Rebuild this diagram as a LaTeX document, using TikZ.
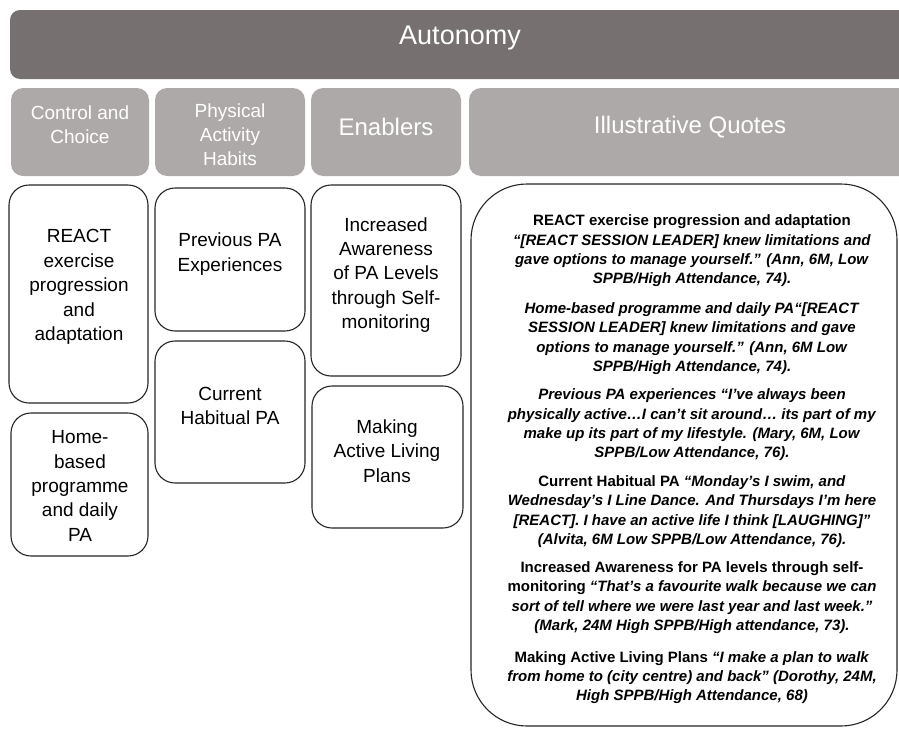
\documentclass[tikz,border=0pt]{standalone}
\usepackage{fontspec}
\setmainfont{Liberation Sans}
\usepackage{tikz}
\definecolor{autogray}{HTML}{767170}
\definecolor{headgray}{HTML}{ADA9A8}
\tikzset{
  autobar/.style={fill=autogray,rounded corners=10pt},
  headbox/.style={fill=headgray,rounded corners=12pt},
  itembox/.style={draw=black!85,line width=1.1pt,fill=white,rounded corners=20pt},
  quotebox/.style={draw=black!85,line width=1.1pt,fill=white,rounded corners=56pt},
  headtext/.style={text=white,align=center,inner sep=0pt},
  itemtext/.style={align=center,inner sep=0pt,font=\fontsize{19}{24.4}\selectfont},
  quotetext/.style={align=center,inner sep=0pt,font=\fontsize{15}{19.3}\selectfont\bfseries}
}

\begin{document}
\begin{tikzpicture}
    [line cap=round,line join=round,x=1pt,y=-1pt]
\useasboundingbox (0,0) rectangle (899,728);
%top bar
\fill[autobar] (10,10) rectangle (915,79);
\node[headtext,font=\fontsize{27}{32}\selectfont] (autonomy) at (460,38) {Autonomy};

%column heads
\fill[headbox] (11,88) rectangle (149,176);
\fill[headbox] (155,88) rectangle (305,176);
\fill[headbox] (311,88) rectangle (461,176);
\fill[headbox] (469,88) rectangle (915,176);
\node[headtext,font=\fontsize{19}{24}\selectfont] (control) at (80,125) {Control and\\Choice};
\node[headtext,font=\fontsize{19}{24}\selectfont] (habits) at (230,135) {Physical\\Activity\\Habits};
\node[headtext,font=\fontsize{24}{29}\selectfont] (enablers) at (386,127) {Enablers};
\node[headtext,font=\fontsize{24}{29}\selectfont] (quotes) at (690,127) {Illustrative Quotes};

%theme boxes
\draw[itembox] (9,185) rectangle (148,403);
\draw[itembox] (11,413) rectangle (148,556);
\draw[itembox] (155,188) rectangle (305,331);
\draw[itembox] (155,341) rectangle (305,483);
\draw[itembox] (311,185) rectangle (461,376);
\draw[itembox] (312,386) rectangle (463,528);
\node[itemtext] (react) at (79,287) {REACT\\exercise\\progression\\and\\adaptation};
\node[itemtext] (homebased) at (80,486) {Home-\\based\\programme\\and daily\\PA};
\node[itemtext] (previous) at (230,254) {Previous PA\\Experiences};
\node[itemtext] (current) at (230,406) {Current\\Habitual PA};
\node[itemtext] (awareness) at (386,275) {Increased\\Awareness\\of PA Levels\\through Self-\\monitoring};
\node[itemtext] (plans) at (387,451) {Making\\Active Living\\Plans};

%quotes
\draw[quotebox] (471,184) rectangle (897,726);
\node[quotetext] (q1) at (692,251) {REACT exercise progression and adaptation\\
  \textit{“[REACT SESSION LEADER] knew limitations and}\\
  \textit{gave options to manage yourself.” (Ann, 6M, Low}\\
  \textit{SPPB/High Attendance, 74).}};
\node[quotetext] (q2) at (692,338.5) {\textit{Home-based programme and daily PA“[REACT}\\
  \textit{SESSION LEADER] knew limitations and gave}\\
  \textit{options to manage yourself.” (Ann, 6M Low}\\
  \textit{SPPB/High Attendance, 74).}};
\node[quotetext] (q3) at (692,425) {\textit{Previous PA experiences “I’ve always been}\\
  \textit{physically active…I can’t sit around… its part of my}\\
  \textit{make up its part of my lifestyle. (Mary, 6M, Low}\\
  \textit{SPPB/Low Attendance, 76).}};
\node[quotetext] (q4) at (692,511.5) {Current Habitual PA \textit{“Monday’s I swim, and}\\
  \textit{Wednesday’s I Line Dance. And Thursdays I’m here}\\
  \textit{[REACT]. I have an active life I think [LAUGHING]”}\\
  \textit{(Alvita, 6M Low SPPB/Low Attendance, 76).}};
\node[quotetext] (q5) at (692,597.5) {Increased Awareness for PA levels through self-\\
  monitoring \textit{“That’s a favourite walk because we can}\\
  \textit{sort of tell where we were last year and last week.”}\\
  \textit{(Mark, 24M High SPPB/High attendance, 73).}};
\node[quotetext] (q6) at (692,677.5) {Making Active Living Plans \textit{“I make a plan to walk}\\
  \textit{from home to (city centre) and back” (Dorothy, 24M,}\\
  \textit{High SPPB/High Attendance, 68)}};
\end{tikzpicture}
\end{document}
